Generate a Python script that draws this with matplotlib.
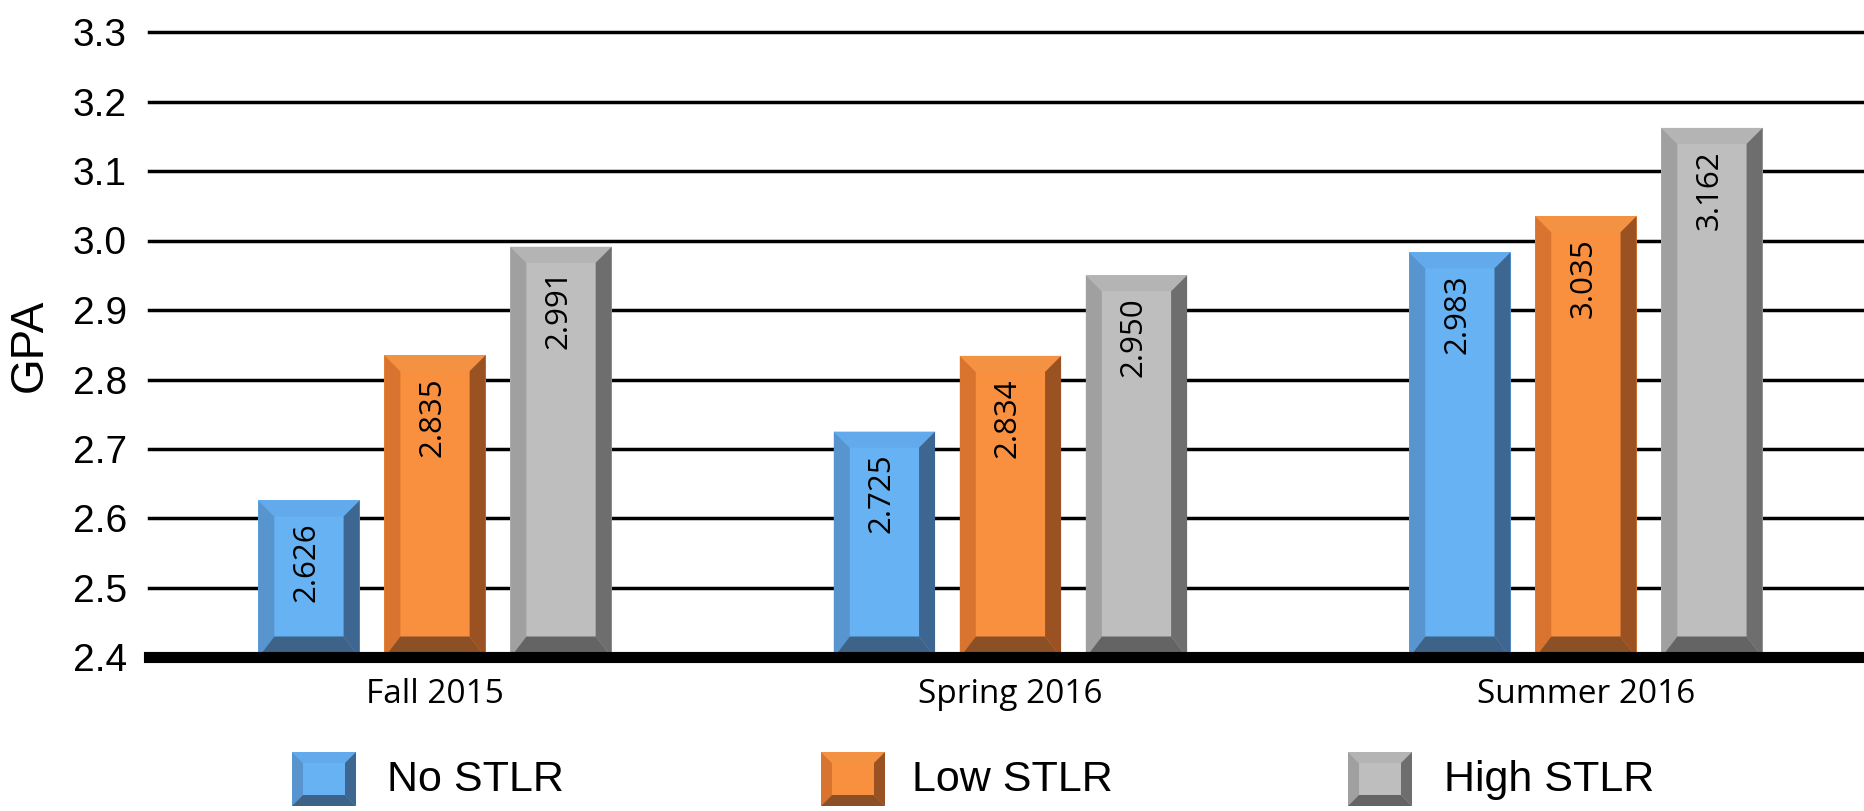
import matplotlib
matplotlib.use("Agg")
import matplotlib.pyplot as plt
from matplotlib.patches import Polygon
import numpy as np

# data
terms = ["Fall 2015", "Spring 2016", "Summer 2016"]
groups = ["No STLR", "Low STLR", "High STLR"]
no_stlr = [2.626, 2.725, 2.983]
low_stlr = [2.835, 2.834, 3.035]
high_stlr = [2.991, 2.950, 3.162]
y_ticks = [2.4, 2.5, 2.6, 2.7, 2.8, 2.9, 3.0, 3.1, 3.2, 3.3]

# face, left, top, right, bottom
palette = {
    "No STLR": ["#66b2f2", "#5895cf", "#62aaeb", "#3d6791", "#3e6389"],
    "Low STLR": ["#f99040", "#d8742f", "#f39242", "#9a5222", "#8c5026"],
    "High STLR": ["#bebebe", "#a0a0a0", "#b4b4b4", "#6e6e6e", "#646464"],
}

W, H = 1865, 811
fig = plt.figure(figsize=(W / 100, H / 100), dpi=100)
ax = fig.add_axes([149 / W, (H - 657.5) / H, 1 - 149 / W, 625.5 / H])
ax.set_xlim(-0.497, 2.485)
ax.set_ylim(2.4, 3.3)


def bevel_polys(xl, xr, yb, yt, dx, dy, dyb):
    left = [(xl, yb), (xl, yt), (xl + dx, yt - dy), (xl + dx, yb + dyb)]
    top = [(xl, yt), (xr, yt), (xr - dx, yt - dy), (xl + dx, yt - dy)]
    right = [(xr, yb), (xr, yt), (xr - dx, yt - dy), (xr - dx, yb + dyb)]
    bottom = [(xl, yb), (xr, yb), (xr - dx, yb + dyb), (xl + dx, yb + dyb)]
    return [left, top, right, bottom]


# pixel -> data sizes for the bevels
inv = ax.transData.inverted()
p0 = inv.transform((0, 0))
p1 = inv.transform((16, 16))
p2 = inv.transform((0, 21))
dx = p1[0] - p0[0]
dy = p1[1] - p0[1]
dyb = p2[1] - p0[1]

# grid lines
for t in y_ticks[1:]:
    ax.axhline(t, color="black", lw=2.5, zorder=1, clip_on=False)

x = np.arange(len(terms))
width = 0.176
pitch = 0.219
series = [no_stlr, low_stlr, high_stlr]
for i, (name, vals) in enumerate(zip(groups, series)):
    cols = palette[name]
    bars = ax.bar(x + (i - 1) * pitch, np.array(vals) - 2.4, bottom=2.4,
                  width=width, color=cols[0], zorder=2)
    for b, v in zip(bars, vals):
        xl = b.get_x()
        xr = xl + b.get_width()
        polys = bevel_polys(xl, xr, 2.4, v, dx, dy, dyb)
        for poly, c in zip(polys, cols[1:]):
            ax.add_patch(Polygon(poly, closed=True, facecolor=c,
                                 edgecolor="none", zorder=2.5))
        ax.annotate(f"{v:.3f}", (xl + b.get_width() / 2, v),
                    xytext=(-2, -16), textcoords="offset points",
                    rotation=90, ha="center", va="top", fontsize=22.5,
                    family="Open Sans", zorder=5)

# thick base line
ax.axhline(2.4, color="black", lw=8, zorder=4, clip_on=False)

for s in ax.spines.values():
    s.set_visible(False)
ax.set_yticks(y_ticks)
ax.set_yticklabels([f"{t:.1f}" for t in y_ticks], family="Liberation Sans",
                   fontsize=28)
ax.tick_params(axis="y", length=0, pad=16)
ax.set_xticks(x)
ax.set_xticklabels(terms, family="Open Sans", fontsize=24)
ax.tick_params(axis="x", length=0, pad=15)

fig.text(30 / W, (H - 345) / H, "GPA", rotation=90, ha="center", va="center",
         family="Liberation Sans", fontsize=33)

# legend drawn in pixel space
lax = fig.add_axes([0, 0, 1, 1])
lax.set_xlim(0, W)
lax.set_ylim(H, 0)
lax.axis("off")
lax.patch.set_alpha(0)
leg_x = [292, 821, 1348]
text_x = [387, 912, 1444]
for name, lx, tx in zip(groups, leg_x, text_x):
    cols = palette[name]
    x0, x1, y0, y1 = lx, lx + 64, 806, 752
    lax.add_patch(Polygon([(x0, y0), (x1, y0), (x1, y1), (x0, y1)],
                          facecolor=cols[0], edgecolor="none"))
    for poly, c in zip(bevel_polys(x0, x1, y0, y1, 11, -11, -11), cols[1:]):
        lax.add_patch(Polygon(poly, facecolor=c, edgecolor="none"))
    lax.text(tx, 780, name, ha="left", va="center", fontsize=31,
             family="Liberation Sans")

fig.savefig("out.png", dpi=100)
